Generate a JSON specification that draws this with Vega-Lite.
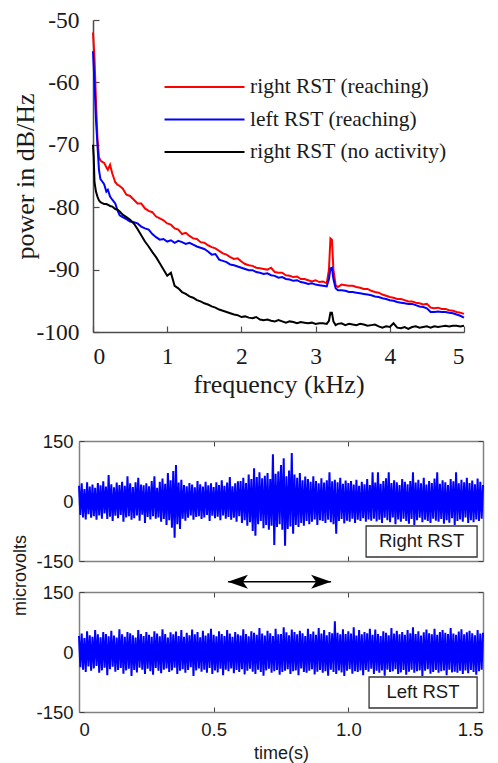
{
"$schema": "https://vega.github.io/schema/vega-lite/v6.json",
"background": "white",
"padding": {"left": 11, "top": 8, "right": 0, "bottom": 0},
"config": {"view": {"stroke": null}, "axis": {"grid": false}},
"datasets": {
"spectrum": [
{"f":0,"right RST (reaching)":-52,"left RST (reaching)":-55,"right RST (no activity)":-70},
{"f":0.01,"right RST (reaching)":-54,"left RST (reaching)":-57.5,"right RST (no activity)":-72},
{"f":0.02,"right RST (reaching)":-56,"left RST (reaching)":-60,"right RST (no activity)":-76},
{"f":0.04,"right RST (reaching)":-63,"left RST (reaching)":-66,"right RST (no activity)":-77.5},
{"f":0.06,"right RST (reaching)":-69,"left RST (reaching)":-70,"right RST (no activity)":-78.3},
{"f":0.08,"right RST (reaching)":-72,"left RST (reaching)":-74,"right RST (no activity)":-78.9},
{"f":0.1,"right RST (reaching)":-72.5,"left RST (reaching)":-75.5,"right RST (no activity)":-79.2},
{"f":0.12,"right RST (reaching)":-72.7,"left RST (reaching)":-75.8,"right RST (no activity)":-79.3},
{"f":0.15,"right RST (reaching)":-72.9,"left RST (reaching)":-76.3,"right RST (no activity)":-79.5},
{"f":0.18,"right RST (reaching)":-73.6,"left RST (reaching)":-77.5,"right RST (no activity)":-79.5},
{"f":0.2,"right RST (reaching)":-74,"left RST (reaching)":-77.2,"right RST (no activity)":-79.6},
{"f":0.23,"right RST (reaching)":-73.2,"left RST (reaching)":-78.3,"right RST (no activity)":-79.8},
{"f":0.26,"right RST (reaching)":-74.6,"left RST (reaching)":-78.8,"right RST (no activity)":-79.9},
{"f":0.3,"right RST (reaching)":-76,"left RST (reaching)":-79.4,"right RST (no activity)":-80.3},
{"f":0.33,"right RST (reaching)":-76.4,"left RST (reaching)":-80.5,"right RST (no activity)":-80.4},
{"f":0.36,"right RST (reaching)":-76.6,"left RST (reaching)":-81.3,"right RST (no activity)":-80.7},
{"f":0.4,"right RST (reaching)":-77,"left RST (reaching)":-81.6,"right RST (no activity)":-81.2},
{"f":0.45,"right RST (reaching)":-78,"left RST (reaching)":-81.9,"right RST (no activity)":-81.6},
{"f":0.5,"right RST (reaching)":-78.2,"left RST (reaching)":-82.3,"right RST (no activity)":-82},
{"f":0.55,"right RST (reaching)":-78.8,"left RST (reaching)":-82.4,"right RST (no activity)":-82.6},
{"f":0.6,"right RST (reaching)":-79.4,"left RST (reaching)":-82.6,"right RST (no activity)":-83.5},
{"f":0.65,"right RST (reaching)":-79.4,"left RST (reaching)":-83.1,"right RST (no activity)":-84.5},
{"f":0.7,"right RST (reaching)":-80.2,"left RST (reaching)":-83.4,"right RST (no activity)":-85.5},
{"f":0.75,"right RST (reaching)":-80.6,"left RST (reaching)":-83.6,"right RST (no activity)":-86.3},
{"f":0.8,"right RST (reaching)":-80.8,"left RST (reaching)":-84.3,"right RST (no activity)":-87.2},
{"f":0.85,"right RST (reaching)":-81.5,"left RST (reaching)":-84.8,"right RST (no activity)":-88},
{"f":0.9,"right RST (reaching)":-81.8,"left RST (reaching)":-85.2,"right RST (no activity)":-89},
{"f":0.95,"right RST (reaching)":-82.1,"left RST (reaching)":-85.1,"right RST (no activity)":-90},
{"f":1,"right RST (reaching)":-82.6,"left RST (reaching)":-85.5,"right RST (no activity)":-91},
{"f":1.05,"right RST (reaching)":-82.8,"left RST (reaching)":-85.3,"right RST (no activity)":-90.5},
{"f":1.1,"right RST (reaching)":-83.4,"left RST (reaching)":-85.7,"right RST (no activity)":-92.6},
{"f":1.15,"right RST (reaching)":-83.6,"left RST (reaching)":-85.4,"right RST (no activity)":-93},
{"f":1.2,"right RST (reaching)":-84.3,"left RST (reaching)":-85.6,"right RST (no activity)":-93.6},
{"f":1.25,"right RST (reaching)":-84.1,"left RST (reaching)":-85.9,"right RST (no activity)":-93.9},
{"f":1.3,"right RST (reaching)":-84.6,"left RST (reaching)":-85.7,"right RST (no activity)":-94.3},
{"f":1.35,"right RST (reaching)":-85,"left RST (reaching)":-86,"right RST (no activity)":-94.5},
{"f":1.4,"right RST (reaching)":-85.1,"left RST (reaching)":-86.3,"right RST (no activity)":-94.9},
{"f":1.45,"right RST (reaching)":-85.6,"left RST (reaching)":-86.5,"right RST (no activity)":-95.1},
{"f":1.5,"right RST (reaching)":-85.7,"left RST (reaching)":-86.7,"right RST (no activity)":-95.4},
{"f":1.55,"right RST (reaching)":-86.1,"left RST (reaching)":-87.1,"right RST (no activity)":-95.6},
{"f":1.6,"right RST (reaching)":-86.4,"left RST (reaching)":-87.6,"right RST (no activity)":-95.9},
{"f":1.65,"right RST (reaching)":-86.6,"left RST (reaching)":-87.5,"right RST (no activity)":-96.1},
{"f":1.7,"right RST (reaching)":-87,"left RST (reaching)":-88.4,"right RST (no activity)":-96.4},
{"f":1.75,"right RST (reaching)":-87.4,"left RST (reaching)":-88.6,"right RST (no activity)":-96.6},
{"f":1.8,"right RST (reaching)":-87.6,"left RST (reaching)":-88.8,"right RST (no activity)":-96.8},
{"f":1.85,"right RST (reaching)":-88,"left RST (reaching)":-89.2,"right RST (no activity)":-97},
{"f":1.9,"right RST (reaching)":-88.3,"left RST (reaching)":-89.3,"right RST (no activity)":-97.2},
{"f":1.95,"right RST (reaching)":-88.2,"left RST (reaching)":-89.5,"right RST (no activity)":-97.3},
{"f":2,"right RST (reaching)":-88.7,"left RST (reaching)":-89.7,"right RST (no activity)":-97.6},
{"f":2.05,"right RST (reaching)":-89.1,"left RST (reaching)":-89.9,"right RST (no activity)":-97.5},
{"f":2.1,"right RST (reaching)":-89.3,"left RST (reaching)":-90.1,"right RST (no activity)":-97.7},
{"f":2.15,"right RST (reaching)":-89.4,"left RST (reaching)":-90.1,"right RST (no activity)":-97.8},
{"f":2.2,"right RST (reaching)":-89.7,"left RST (reaching)":-90.4,"right RST (no activity)":-97.6},
{"f":2.25,"right RST (reaching)":-89.8,"left RST (reaching)":-90.5,"right RST (no activity)":-98},
{"f":2.3,"right RST (reaching)":-89.9,"left RST (reaching)":-90.7,"right RST (no activity)":-98.1},
{"f":2.35,"right RST (reaching)":-90,"left RST (reaching)":-90.6,"right RST (no activity)":-98},
{"f":2.4,"right RST (reaching)":-89.7,"left RST (reaching)":-90.9,"right RST (no activity)":-98.2},
{"f":2.45,"right RST (reaching)":-90.4,"left RST (reaching)":-91,"right RST (no activity)":-98.3},
{"f":2.5,"right RST (reaching)":-90.5,"left RST (reaching)":-91.3,"right RST (no activity)":-98.1},
{"f":2.55,"right RST (reaching)":-90.5,"left RST (reaching)":-91.2,"right RST (no activity)":-98.3},
{"f":2.6,"right RST (reaching)":-90.9,"left RST (reaching)":-91.5,"right RST (no activity)":-98.5},
{"f":2.65,"right RST (reaching)":-91,"left RST (reaching)":-91.6,"right RST (no activity)":-98.3},
{"f":2.7,"right RST (reaching)":-91.2,"left RST (reaching)":-91.8,"right RST (no activity)":-98.4},
{"f":2.75,"right RST (reaching)":-91.1,"left RST (reaching)":-91.7,"right RST (no activity)":-98.6},
{"f":2.8,"right RST (reaching)":-91.5,"left RST (reaching)":-92,"right RST (no activity)":-98.4},
{"f":2.85,"right RST (reaching)":-91.5,"left RST (reaching)":-92.1,"right RST (no activity)":-98.5},
{"f":2.9,"right RST (reaching)":-91.7,"left RST (reaching)":-92.3,"right RST (no activity)":-98.6},
{"f":2.95,"right RST (reaching)":-91.9,"left RST (reaching)":-92.2,"right RST (no activity)":-98.5},
{"f":3,"right RST (reaching)":-91.7,"left RST (reaching)":-92.4,"right RST (no activity)":-98.7},
{"f":3.05,"right RST (reaching)":-92,"left RST (reaching)":-92.5,"right RST (no activity)":-98.6},
{"f":3.1,"right RST (reaching)":-91.9,"left RST (reaching)":-92.6,"right RST (no activity)":-98.6},
{"f":3.15,"right RST (reaching)":-92.2,"left RST (reaching)":-92.7,"right RST (no activity)":-98.7},
{"f":3.18,"right RST (reaching)":-90,"left RST (reaching)":-91.5,"right RST (no activity)":-98.2},
{"f":3.2,"right RST (reaching)":-85,"left RST (reaching)":-89.8,"right RST (no activity)":-96.9},
{"f":3.22,"right RST (reaching)":-85.2,"left RST (reaching)":-89.7,"right RST (no activity)":-96.9},
{"f":3.24,"right RST (reaching)":-90,"left RST (reaching)":-91.5,"right RST (no activity)":-98.3},
{"f":3.27,"right RST (reaching)":-92.5,"left RST (reaching)":-93,"right RST (no activity)":-98.9},
{"f":3.3,"right RST (reaching)":-92.8,"left RST (reaching)":-93.3,"right RST (no activity)":-98.7},
{"f":3.35,"right RST (reaching)":-92.4,"left RST (reaching)":-93.3,"right RST (no activity)":-98.6},
{"f":3.4,"right RST (reaching)":-92.5,"left RST (reaching)":-93.4,"right RST (no activity)":-98.9},
{"f":3.45,"right RST (reaching)":-92.6,"left RST (reaching)":-93.6,"right RST (no activity)":-98.7},
{"f":3.5,"right RST (reaching)":-92.6,"left RST (reaching)":-93.6,"right RST (no activity)":-98.8},
{"f":3.55,"right RST (reaching)":-92.8,"left RST (reaching)":-93.7,"right RST (no activity)":-98.9},
{"f":3.6,"right RST (reaching)":-92.9,"left RST (reaching)":-93.8,"right RST (no activity)":-98.7},
{"f":3.65,"right RST (reaching)":-93.1,"left RST (reaching)":-93.9,"right RST (no activity)":-98.8},
{"f":3.7,"right RST (reaching)":-93.1,"left RST (reaching)":-94,"right RST (no activity)":-99},
{"f":3.75,"right RST (reaching)":-93.4,"left RST (reaching)":-94.1,"right RST (no activity)":-98.9},
{"f":3.8,"right RST (reaching)":-93.6,"left RST (reaching)":-94.3,"right RST (no activity)":-98.8},
{"f":3.85,"right RST (reaching)":-93.7,"left RST (reaching)":-94.4,"right RST (no activity)":-99.1},
{"f":3.9,"right RST (reaching)":-94,"left RST (reaching)":-94.6,"right RST (no activity)":-99.3},
{"f":3.95,"right RST (reaching)":-94.2,"left RST (reaching)":-94.7,"right RST (no activity)":-99.1},
{"f":4,"right RST (reaching)":-94.4,"left RST (reaching)":-94.9,"right RST (no activity)":-99.2},
{"f":4.05,"right RST (reaching)":-94.5,"left RST (reaching)":-95,"right RST (no activity)":-98.6},
{"f":4.1,"right RST (reaching)":-94.7,"left RST (reaching)":-95.2,"right RST (no activity)":-99.3},
{"f":4.15,"right RST (reaching)":-94.7,"left RST (reaching)":-95.3,"right RST (no activity)":-99.4},
{"f":4.2,"right RST (reaching)":-94.9,"left RST (reaching)":-95.4,"right RST (no activity)":-99.2},
{"f":4.25,"right RST (reaching)":-95.1,"left RST (reaching)":-95.5,"right RST (no activity)":-99.5},
{"f":4.3,"right RST (reaching)":-95.1,"left RST (reaching)":-95.5,"right RST (no activity)":-99.2},
{"f":4.35,"right RST (reaching)":-95.3,"left RST (reaching)":-95.7,"right RST (no activity)":-99.1},
{"f":4.4,"right RST (reaching)":-95.4,"left RST (reaching)":-95.9,"right RST (no activity)":-99.3},
{"f":4.45,"right RST (reaching)":-95.6,"left RST (reaching)":-96,"right RST (no activity)":-99.2},
{"f":4.5,"right RST (reaching)":-95.5,"left RST (reaching)":-96.2,"right RST (no activity)":-99.1},
{"f":4.55,"right RST (reaching)":-96.1,"left RST (reaching)":-96.8,"right RST (no activity)":-99.3},
{"f":4.6,"right RST (reaching)":-96.2,"left RST (reaching)":-96.8,"right RST (no activity)":-99.1},
{"f":4.65,"right RST (reaching)":-96.1,"left RST (reaching)":-96.7,"right RST (no activity)":-99.2},
{"f":4.7,"right RST (reaching)":-96.3,"left RST (reaching)":-96.8,"right RST (no activity)":-99.1},
{"f":4.75,"right RST (reaching)":-96.3,"left RST (reaching)":-96.8,"right RST (no activity)":-99},
{"f":4.8,"right RST (reaching)":-96.5,"left RST (reaching)":-96.9,"right RST (no activity)":-99.1},
{"f":4.85,"right RST (reaching)":-96.6,"left RST (reaching)":-97,"right RST (no activity)":-99},
{"f":4.9,"right RST (reaching)":-96.8,"left RST (reaching)":-97.2,"right RST (no activity)":-99},
{"f":4.95,"right RST (reaching)":-96.9,"left RST (reaching)":-97.4,"right RST (no activity)":-99.1},
{"f":5,"right RST (reaching)":-97.1,"left RST (reaching)":-97.7,"right RST (no activity)":-99}
],
"right": [
{"ms":0,"uV":38},{"ms":5,"uV":-35},{"ms":10,"uV":44},{"ms":15,"uV":-41},{"ms":20,"uV":30},{"ms":25,"uV":-46},{"ms":30,"uV":47},{"ms":35,"uV":-33},{"ms":40,"uV":36},{"ms":45,"uV":-42},
{"ms":50,"uV":41},{"ms":55,"uV":-38},{"ms":60,"uV":33},{"ms":65,"uV":-47},{"ms":70,"uV":45},{"ms":75,"uV":-36},{"ms":80,"uV":39},{"ms":85,"uV":-44},{"ms":90,"uV":49},{"ms":95,"uV":-31},
{"ms":100,"uV":36},{"ms":105,"uV":-45},{"ms":110,"uV":65},{"ms":115,"uV":-39},{"ms":120,"uV":42},{"ms":125,"uV":-50},{"ms":130,"uV":34},{"ms":135,"uV":-37},{"ms":140,"uV":46},{"ms":145,"uV":-43},
{"ms":150,"uV":40},{"ms":155,"uV":-35},{"ms":160,"uV":48},{"ms":165,"uV":-52},{"ms":170,"uV":38},{"ms":175,"uV":-41},{"ms":180,"uV":62},{"ms":185,"uV":-38},{"ms":190,"uV":44},{"ms":195,"uV":-47},
{"ms":200,"uV":35},{"ms":205,"uV":-43},{"ms":210,"uV":47},{"ms":215,"uV":-36},{"ms":220,"uV":58},{"ms":225,"uV":-49},{"ms":230,"uV":41},{"ms":235,"uV":-34},{"ms":240,"uV":39},{"ms":245,"uV":-55},
{"ms":250,"uV":44},{"ms":255,"uV":-40},{"ms":260,"uV":37},{"ms":265,"uV":-46},{"ms":270,"uV":50},{"ms":275,"uV":-38},{"ms":280,"uV":62},{"ms":285,"uV":-44},{"ms":290,"uV":33},{"ms":295,"uV":-41},
{"ms":300,"uV":48},{"ms":305,"uV":-52},{"ms":310,"uV":56},{"ms":315,"uV":-45},{"ms":320,"uV":43},{"ms":325,"uV":-60},{"ms":330,"uV":70},{"ms":335,"uV":-48},{"ms":340,"uV":52},{"ms":345,"uV":-67},
{"ms":350,"uV":75},{"ms":355,"uV":-92},{"ms":360,"uV":90},{"ms":365,"uV":-58},{"ms":370,"uV":46},{"ms":375,"uV":-70},{"ms":380,"uV":53},{"ms":385,"uV":-44},{"ms":390,"uV":40},{"ms":395,"uV":-49},
{"ms":400,"uV":37},{"ms":405,"uV":-42},{"ms":410,"uV":45},{"ms":415,"uV":-36},{"ms":420,"uV":41},{"ms":425,"uV":-47},{"ms":430,"uV":34},{"ms":435,"uV":-40},{"ms":440,"uV":50},{"ms":445,"uV":-38},
{"ms":450,"uV":42},{"ms":455,"uV":-45},{"ms":460,"uV":36},{"ms":465,"uV":-41},{"ms":470,"uV":48},{"ms":475,"uV":-35},{"ms":480,"uV":39},{"ms":485,"uV":-50},{"ms":490,"uV":44},{"ms":495,"uV":-37},
{"ms":500,"uV":35},{"ms":505,"uV":-43},{"ms":510,"uV":47},{"ms":515,"uV":-39},{"ms":520,"uV":40},{"ms":525,"uV":-48},{"ms":530,"uV":52},{"ms":535,"uV":-36},{"ms":540,"uV":38},{"ms":545,"uV":-44},
{"ms":550,"uV":46},{"ms":555,"uV":-40},{"ms":560,"uV":60},{"ms":565,"uV":-47},{"ms":570,"uV":37},{"ms":575,"uV":-42},{"ms":580,"uV":44},{"ms":585,"uV":-52},{"ms":590,"uV":49},{"ms":595,"uV":-38},
{"ms":600,"uV":50},{"ms":605,"uV":-55},{"ms":610,"uV":58},{"ms":615,"uV":-48},{"ms":620,"uV":45},{"ms":625,"uV":-62},{"ms":630,"uV":66},{"ms":635,"uV":-53},{"ms":640,"uV":55},{"ms":645,"uV":-75},
{"ms":650,"uV":82},{"ms":655,"uV":-87},{"ms":660,"uV":60},{"ms":665,"uV":-58},{"ms":670,"uV":72},{"ms":675,"uV":-50},{"ms":680,"uV":57},{"ms":685,"uV":-68},{"ms":690,"uV":63},{"ms":695,"uV":-60},
{"ms":700,"uV":70},{"ms":705,"uV":-72},{"ms":710,"uV":55},{"ms":715,"uV":-62},{"ms":720,"uV":117},{"ms":725,"uV":-110},{"ms":730,"uV":68},{"ms":735,"uV":-65},{"ms":740,"uV":74},{"ms":745,"uV":-58},
{"ms":750,"uV":90},{"ms":755,"uV":-72},{"ms":760,"uV":107},{"ms":765,"uV":-112},{"ms":770,"uV":62},{"ms":775,"uV":-70},{"ms":780,"uV":76},{"ms":785,"uV":-64},{"ms":790,"uV":120},{"ms":795,"uV":-82},
{"ms":800,"uV":66},{"ms":805,"uV":-60},{"ms":810,"uV":58},{"ms":815,"uV":-65},{"ms":820,"uV":70},{"ms":825,"uV":-55},{"ms":830,"uV":52},{"ms":835,"uV":-62},{"ms":840,"uV":61},{"ms":845,"uV":-50},
{"ms":850,"uV":55},{"ms":855,"uV":-58},{"ms":860,"uV":48},{"ms":865,"uV":-52},{"ms":870,"uV":62},{"ms":875,"uV":-46},{"ms":880,"uV":50},{"ms":885,"uV":-60},{"ms":890,"uV":44},{"ms":895,"uV":-48},
{"ms":900,"uV":57},{"ms":905,"uV":-50},{"ms":910,"uV":46},{"ms":915,"uV":-55},{"ms":920,"uV":52},{"ms":925,"uV":-47},{"ms":930,"uV":72},{"ms":935,"uV":-53},{"ms":940,"uV":49},{"ms":945,"uV":-58},
{"ms":950,"uV":53},{"ms":955,"uV":-82},{"ms":960,"uV":47},{"ms":965,"uV":-50},{"ms":970,"uV":58},{"ms":975,"uV":-45},{"ms":980,"uV":43},{"ms":985,"uV":-56},{"ms":990,"uV":51},{"ms":995,"uV":-49},
{"ms":1000,"uV":45},{"ms":1005,"uV":-52},{"ms":1010,"uV":50},{"ms":1015,"uV":-44},{"ms":1020,"uV":41},{"ms":1025,"uV":-55},{"ms":1030,"uV":53},{"ms":1035,"uV":-47},{"ms":1040,"uV":38},{"ms":1045,"uV":-50},
{"ms":1050,"uV":48},{"ms":1055,"uV":-43},{"ms":1060,"uV":42},{"ms":1065,"uV":-52},{"ms":1070,"uV":55},{"ms":1075,"uV":-46},{"ms":1080,"uV":40},{"ms":1085,"uV":-49},{"ms":1090,"uV":72},{"ms":1095,"uV":-44},
{"ms":1100,"uV":46},{"ms":1105,"uV":-51},{"ms":1110,"uV":72},{"ms":1115,"uV":-47},{"ms":1120,"uV":43},{"ms":1125,"uV":-55},{"ms":1130,"uV":50},{"ms":1135,"uV":-42},{"ms":1140,"uV":57},{"ms":1145,"uV":-48},
{"ms":1150,"uV":72},{"ms":1155,"uV":-53},{"ms":1160,"uV":45},{"ms":1165,"uV":-41},{"ms":1170,"uV":52},{"ms":1175,"uV":-58},{"ms":1180,"uV":47},{"ms":1185,"uV":-46},{"ms":1190,"uV":40},{"ms":1195,"uV":-52},
{"ms":1200,"uV":55},{"ms":1205,"uV":-44},{"ms":1210,"uV":48},{"ms":1215,"uV":-50},{"ms":1220,"uV":42},{"ms":1225,"uV":-57},{"ms":1230,"uV":50},{"ms":1235,"uV":-45},{"ms":1240,"uV":72},{"ms":1245,"uV":-60},
{"ms":1250,"uV":46},{"ms":1255,"uV":-48},{"ms":1260,"uV":53},{"ms":1265,"uV":-42},{"ms":1270,"uV":44},{"ms":1275,"uV":-53},{"ms":1280,"uV":58},{"ms":1285,"uV":-47},{"ms":1290,"uV":41},{"ms":1295,"uV":-50},
{"ms":1300,"uV":50},{"ms":1305,"uV":-55},{"ms":1310,"uV":45},{"ms":1315,"uV":-44},{"ms":1320,"uV":56},{"ms":1325,"uV":-49},{"ms":1330,"uV":72},{"ms":1335,"uV":-52},{"ms":1340,"uV":43},{"ms":1345,"uV":-45},
{"ms":1350,"uV":52},{"ms":1355,"uV":-57},{"ms":1360,"uV":47},{"ms":1365,"uV":-48},{"ms":1370,"uV":40},{"ms":1375,"uV":-54},{"ms":1380,"uV":55},{"ms":1385,"uV":-43},{"ms":1390,"uV":49},{"ms":1395,"uV":-60},
{"ms":1400,"uV":72},{"ms":1405,"uV":-50},{"ms":1410,"uV":44},{"ms":1415,"uV":-46},{"ms":1420,"uV":53},{"ms":1425,"uV":-52},{"ms":1430,"uV":47},{"ms":1435,"uV":-41},{"ms":1440,"uV":58},{"ms":1445,"uV":-55},
{"ms":1450,"uV":45},{"ms":1455,"uV":-48},{"ms":1460,"uV":51},{"ms":1465,"uV":-53},{"ms":1470,"uV":42},{"ms":1475,"uV":-46},{"ms":1480,"uV":56},{"ms":1485,"uV":-50},{"ms":1490,"uV":48},{"ms":1495,"uV":-44},
{"ms":1500,"uV":40}
],
"left": [
{"ms":0,"uV":40},{"ms":5,"uV":-38},{"ms":10,"uV":46},{"ms":15,"uV":-44},{"ms":20,"uV":35},{"ms":25,"uV":-50},{"ms":30,"uV":52},{"ms":35,"uV":-36},{"ms":40,"uV":42},{"ms":45,"uV":-47},
{"ms":50,"uV":38},{"ms":55,"uV":-41},{"ms":60,"uV":55},{"ms":65,"uV":-35},{"ms":70,"uV":44},{"ms":75,"uV":-52},{"ms":80,"uV":37},{"ms":85,"uV":-46},{"ms":90,"uV":50},{"ms":95,"uV":-39},
{"ms":100,"uV":45},{"ms":105,"uV":-58},{"ms":110,"uV":39},{"ms":115,"uV":-43},{"ms":120,"uV":53},{"ms":125,"uV":-37},{"ms":130,"uV":41},{"ms":135,"uV":-49},{"ms":140,"uV":36},{"ms":145,"uV":-45},
{"ms":150,"uV":57},{"ms":155,"uV":-40},{"ms":160,"uV":44},{"ms":165,"uV":-54},{"ms":170,"uV":38},{"ms":175,"uV":-46},{"ms":180,"uV":50},{"ms":185,"uV":-42},{"ms":190,"uV":47},{"ms":195,"uV":-60},
{"ms":200,"uV":42},{"ms":205,"uV":-45},{"ms":210,"uV":36},{"ms":215,"uV":-51},{"ms":220,"uV":55},{"ms":225,"uV":-39},{"ms":230,"uV":45},{"ms":235,"uV":-44},{"ms":240,"uV":40},{"ms":245,"uV":-55},
{"ms":250,"uV":50},{"ms":255,"uV":-42},{"ms":260,"uV":43},{"ms":265,"uV":-48},{"ms":270,"uV":38},{"ms":275,"uV":-57},{"ms":280,"uV":52},{"ms":285,"uV":-40},{"ms":290,"uV":46},{"ms":295,"uV":-47},
{"ms":300,"uV":39},{"ms":305,"uV":-53},{"ms":310,"uV":57},{"ms":315,"uV":-44},{"ms":320,"uV":45},{"ms":325,"uV":-41},{"ms":330,"uV":36},{"ms":335,"uV":-50},{"ms":340,"uV":49},{"ms":345,"uV":-46},
{"ms":350,"uV":44},{"ms":355,"uV":-39},{"ms":360,"uV":51},{"ms":365,"uV":-55},{"ms":370,"uV":40},{"ms":375,"uV":-47},{"ms":380,"uV":55},{"ms":385,"uV":-43},{"ms":390,"uV":38},{"ms":395,"uV":-52},
{"ms":400,"uV":48},{"ms":405,"uV":-45},{"ms":410,"uV":42},{"ms":415,"uV":-38},{"ms":420,"uV":56},{"ms":425,"uV":-60},{"ms":430,"uV":44},{"ms":435,"uV":-46},{"ms":440,"uV":50},{"ms":445,"uV":-41},
{"ms":450,"uV":37},{"ms":455,"uV":-49},{"ms":460,"uV":53},{"ms":465,"uV":-44},{"ms":470,"uV":41},{"ms":475,"uV":-52},{"ms":480,"uV":47},{"ms":485,"uV":-40},{"ms":490,"uV":58},{"ms":495,"uV":-55},
{"ms":500,"uV":43},{"ms":505,"uV":-46},{"ms":510,"uV":39},{"ms":515,"uV":-51},{"ms":520,"uV":52},{"ms":525,"uV":-42},{"ms":530,"uV":45},{"ms":535,"uV":-58},{"ms":540,"uV":40},{"ms":545,"uV":-44},
{"ms":550,"uV":55},{"ms":555,"uV":-48},{"ms":560,"uV":46},{"ms":565,"uV":-41},{"ms":570,"uV":38},{"ms":575,"uV":-53},{"ms":580,"uV":50},{"ms":585,"uV":-45},{"ms":590,"uV":44},{"ms":595,"uV":-50},
{"ms":600,"uV":41},{"ms":605,"uV":-43},{"ms":610,"uV":57},{"ms":615,"uV":-56},{"ms":620,"uV":45},{"ms":625,"uV":-47},{"ms":630,"uV":39},{"ms":635,"uV":-42},{"ms":640,"uV":52},{"ms":645,"uV":-49},
{"ms":650,"uV":48},{"ms":655,"uV":-55},{"ms":660,"uV":43},{"ms":665,"uV":-44},{"ms":670,"uV":60},{"ms":675,"uV":-50},{"ms":680,"uV":46},{"ms":685,"uV":-59},{"ms":690,"uV":41},{"ms":695,"uV":-46},
{"ms":700,"uV":53},{"ms":705,"uV":-42},{"ms":710,"uV":47},{"ms":715,"uV":-52},{"ms":720,"uV":40},{"ms":725,"uV":-48},{"ms":730,"uV":58},{"ms":735,"uV":-45},{"ms":740,"uV":44},{"ms":745,"uV":-57},
{"ms":750,"uV":45},{"ms":755,"uV":-50},{"ms":760,"uV":62},{"ms":765,"uV":-47},{"ms":770,"uV":49},{"ms":775,"uV":-43},{"ms":780,"uV":42},{"ms":785,"uV":-55},{"ms":790,"uV":56},{"ms":795,"uV":-48},
{"ms":800,"uV":50},{"ms":805,"uV":-46},{"ms":810,"uV":44},{"ms":815,"uV":-58},{"ms":820,"uV":53},{"ms":825,"uV":-41},{"ms":830,"uV":47},{"ms":835,"uV":-50},{"ms":840,"uV":40},{"ms":845,"uV":-52},
{"ms":850,"uV":58},{"ms":855,"uV":-47},{"ms":860,"uV":45},{"ms":865,"uV":-43},{"ms":870,"uV":51},{"ms":875,"uV":-56},{"ms":880,"uV":43},{"ms":885,"uV":-49},{"ms":890,"uV":60},{"ms":895,"uV":-45},
{"ms":900,"uV":46},{"ms":905,"uV":-52},{"ms":910,"uV":55},{"ms":915,"uV":-48},{"ms":920,"uV":42},{"ms":925,"uV":-59},{"ms":930,"uV":50},{"ms":935,"uV":-44},{"ms":940,"uV":47},{"ms":945,"uV":-50},
{"ms":950,"uV":77},{"ms":955,"uV":-55},{"ms":960,"uV":48},{"ms":965,"uV":-46},{"ms":970,"uV":44},{"ms":975,"uV":-51},{"ms":980,"uV":57},{"ms":985,"uV":-60},{"ms":990,"uV":45},{"ms":995,"uV":-47},
{"ms":1000,"uV":52},{"ms":1005,"uV":-43},{"ms":1010,"uV":46},{"ms":1015,"uV":-54},{"ms":1020,"uV":62},{"ms":1025,"uV":-48},{"ms":1030,"uV":41},{"ms":1035,"uV":-50},{"ms":1040,"uV":55},{"ms":1045,"uV":-46},
{"ms":1050,"uV":44},{"ms":1055,"uV":-58},{"ms":1060,"uV":50},{"ms":1065,"uV":-45},{"ms":1070,"uV":47},{"ms":1075,"uV":-49},{"ms":1080,"uV":58},{"ms":1085,"uV":-42},{"ms":1090,"uV":43},{"ms":1095,"uV":-55},
{"ms":1100,"uV":56},{"ms":1105,"uV":-47},{"ms":1110,"uV":45},{"ms":1115,"uV":-52},{"ms":1120,"uV":40},{"ms":1125,"uV":-46},{"ms":1130,"uV":52},{"ms":1135,"uV":-59},{"ms":1140,"uV":48},{"ms":1145,"uV":-44},
{"ms":1150,"uV":42},{"ms":1155,"uV":-50},{"ms":1160,"uV":60},{"ms":1165,"uV":-48},{"ms":1170,"uV":46},{"ms":1175,"uV":-43},{"ms":1180,"uV":53},{"ms":1185,"uV":-55},{"ms":1190,"uV":44},{"ms":1195,"uV":-51},
{"ms":1200,"uV":50},{"ms":1205,"uV":-45},{"ms":1210,"uV":43},{"ms":1215,"uV":-57},{"ms":1220,"uV":55},{"ms":1225,"uV":-49},{"ms":1230,"uV":47},{"ms":1235,"uV":-44},{"ms":1240,"uV":62},{"ms":1245,"uV":-52},
{"ms":1250,"uV":45},{"ms":1255,"uV":-48},{"ms":1260,"uV":52},{"ms":1265,"uV":-46},{"ms":1270,"uV":41},{"ms":1275,"uV":-60},{"ms":1280,"uV":49},{"ms":1285,"uV":-47},{"ms":1290,"uV":56},{"ms":1295,"uV":-43},
{"ms":1300,"uV":47},{"ms":1305,"uV":-54},{"ms":1310,"uV":44},{"ms":1315,"uV":-50},{"ms":1320,"uV":58},{"ms":1325,"uV":-45},{"ms":1330,"uV":43},{"ms":1335,"uV":-52},{"ms":1340,"uV":50},{"ms":1345,"uV":-48},
{"ms":1350,"uV":55},{"ms":1355,"uV":-46},{"ms":1360,"uV":48},{"ms":1365,"uV":-58},{"ms":1370,"uV":45},{"ms":1375,"uV":-44},{"ms":1380,"uV":60},{"ms":1385,"uV":-51},{"ms":1390,"uV":46},{"ms":1395,"uV":-49},
{"ms":1400,"uV":43},{"ms":1405,"uV":-52},{"ms":1410,"uV":51},{"ms":1415,"uV":-47},{"ms":1420,"uV":57},{"ms":1425,"uV":-55},{"ms":1430,"uV":44},{"ms":1435,"uV":-46},{"ms":1440,"uV":49},{"ms":1445,"uV":-53},
{"ms":1450,"uV":53},{"ms":1455,"uV":-45},{"ms":1460,"uV":47},{"ms":1465,"uV":-50},{"ms":1470,"uV":42},{"ms":1475,"uV":-57},{"ms":1480,"uV":55},{"ms":1485,"uV":-48},{"ms":1490,"uV":46},{"ms":1495,"uV":-44},
{"ms":1500,"uV":48}
],
"boxes": [
{"label":"Right RST","x1":1066,"x2":1478,"y1":-62.5,"y2":-140,"xc":1272,"yc":-101},
{"label":"Left RST","x1":1077,"x2":1478,"y1":-62.5,"y2":-140,"xc":1277,"yc":-101}
],
"arrow": [
{"ms":553,"uV":-202,"end":"start"},
{"ms":936,"uV":-202,"end":"end"}
]
},
"vconcat": [
{
"width": 385, "height": 312,
"data": {"name": "spectrum"},
"transform": [{"fold": ["right RST (reaching)", "left RST (reaching)", "right RST (no activity)"], "as": ["series", "power"]}],
"mark": {"type": "line", "strokeWidth": 2},
"encoding": {
"x": {"field": "f", "type": "quantitative", "scale": {"domain": [0, 5], "range": [14, 385], "nice": false, "zero": false},
"axis": {"values": [0, 1, 2, 3, 4, 5], "title": "frequency (kHz)", "tickSize": -6, "labelPadding": 18, "titlePadding": 4,
"labelFont": "Liberation Serif", "labelFontSize": 23.5, "labelColor": "#1a1a1a", "titleFont": "Liberation Serif", "titleFontSize": 26, "titleFontWeight": "normal", "titleColor": "#1a1a1a",
"domainColor": "#4d4d4d", "domainWidth": 1.5, "tickColor": "#4d4d4d", "tickWidth": 1.2}},
"y": {"field": "power", "type": "quantitative", "scale": {"domain": [-100, -50], "nice": false, "zero": false},
"axis": {"values": [-100, -90, -80, -70, -60, -50], "labelExpr": "'' + datum.value", "title": "power in dB/Hz", "offset": -14, "tickSize": -6, "labelPadding": 20, "titlePadding": -3,
"labelFont": "Liberation Serif", "labelFontSize": 23.5, "labelColor": "#1a1a1a", "titleFont": "Liberation Serif", "titleFontSize": 26, "titleFontWeight": "normal", "titleColor": "#1a1a1a",
"domainColor": "#4d4d4d", "domainWidth": 1.5, "tickColor": "#4d4d4d", "tickWidth": 1.2}},
"color": {"field": "series", "type": "nominal",
"scale": {"domain": ["right RST (reaching)", "left RST (reaching)", "right RST (no activity)"], "range": ["#ff0000", "#0000ff", "#000000"]},
"legend": {"orient": "none", "legendX": 84, "legendY": 57, "title": null, "symbolType": "stroke", "symbolSize": 6400, "symbolStrokeWidth": 2.2,
"labelFont": "Liberation Serif", "labelFontSize": 21.5, "labelColor": "#1a1a1a", "labelOffset": 4, "labelLimit": 0, "clipHeight": 20, "rowPadding": 10.5, "padding": 0}}
}
},
{
"vconcat": [
{
"width": 404, "height": 120,
"resolve": {"axis": {"x": "independent", "y": "independent"}},
"layer": [
{"data": {"name": "right"}, "mark": {"type": "line", "color": "#0000ff", "strokeWidth": 2},
"encoding": {
"x": {"field": "ms", "type": "quantitative", "scale": {"domain": [0, 1500], "nice": false, "zero": false},
"axis": {"orient": "bottom", "values": [0, 500, 1000, 1500], "labels": false, "title": null, "tickSize": -5, "domainColor": "#808080", "domainWidth": 1.5, "tickColor": "#404040"}},
"y": {"field": "uV", "type": "quantitative", "scale": {"domain": [-150, 150], "nice": false, "zero": false},
"axis": {"orient": "left", "values": [-150, 0, 150], "labelExpr": "'' + datum.value", "tickSize": -5, "labelPadding": 11,
"labelFont": "Liberation Sans", "labelFontSize": 18.5, "labelColor": "#1a1a1a",
"title": "microvolts", "titleFont": "Liberation Sans", "titleFontSize": 18, "titleFontWeight": "normal", "titleColor": "#1a1a1a", "titleY": 134, "titlePadding": 6,
"domainColor": "#808080", "domainWidth": 1.5, "tickColor": "#404040"}}
}},
{"data": {"name": "boxes"}, "transform": [{"filter": "datum.label == 'Right RST'"}],
"mark": {"type": "rect", "fill": "white", "stroke": "#333333", "strokeWidth": 1.3},
"encoding": {
"x": {"field": "x1", "type": "quantitative", "axis": {"orient": "top", "values": [0, 500, 1000, 1500], "labels": false, "title": null, "tickSize": -5, "domainColor": "#808080", "domainWidth": 1.5, "tickColor": "#404040"}},
"x2": {"field": "x2"},
"y": {"field": "y1", "type": "quantitative", "axis": {"orient": "right", "values": [-150, 0, 150], "labels": false, "title": null, "tickSize": -5, "domainColor": "#808080", "domainWidth": 1.5, "tickColor": "#404040"}},
"y2": {"field": "y2"}
}},
{"data": {"name": "boxes"}, "transform": [{"filter": "datum.label == 'Right RST'"}],
"mark": {"type": "text", "font": "Liberation Sans", "fontSize": 18.5, "color": "#1a1a1a", "align": "center", "baseline": "middle"},
"encoding": {
"x": {"field": "xc", "type": "quantitative", "axis": null},
"y": {"field": "yc", "type": "quantitative", "axis": null},
"text": {"field": "label"}
}},
{"data": {"name": "arrow"}, "mark": {"type": "line", "color": "#000000", "strokeWidth": 1.5},
"encoding": {
"x": {"field": "ms", "type": "quantitative", "axis": null},
"y": {"field": "uV", "type": "quantitative", "axis": null}
}},
{"data": {"name": "arrow"}, "mark": {"type": "point", "filled": true, "color": "#000000", "size": 400, "opacity": 1, "strokeWidth": 0},
"encoding": {
"x": {"field": "ms", "type": "quantitative", "axis": null},
"y": {"field": "uV", "type": "quantitative", "axis": null},
"shape": {"field": "end", "type": "nominal", "scale": {"domain": ["start", "end"], "range": ["M0,0L2,-0.7L1.5,0L2,0.7Z", "M0,0L-2,-0.7L-1.5,0L-2,0.7Z"]}, "legend": null}
}}
]
},
{
"width": 404, "height": 120,
"resolve": {"axis": {"x": "independent", "y": "independent"}},
"layer": [
{"data": {"name": "left"}, "mark": {"type": "line", "color": "#0000ff", "strokeWidth": 2},
"encoding": {
"x": {"field": "ms", "type": "quantitative", "scale": {"domain": [0, 1500], "nice": false, "zero": false},
"axis": {"orient": "bottom", "values": [0, 500, 1000, 1500], "labelExpr": "datum.value == 0 ? '0' : format(datum.value / 1000, '.1f')", "tickSize": -5, "labelPadding": 13,
"labelFont": "Liberation Sans", "labelFontSize": 18.5, "labelColor": "#1a1a1a",
"title": "time(s)", "titleFont": "Liberation Sans", "titleFontSize": 18, "titleFontWeight": "normal", "titleColor": "#1a1a1a", "titlePadding": 6,
"domainColor": "#808080", "domainWidth": 1.5, "tickColor": "#404040"}},
"y": {"field": "uV", "type": "quantitative", "scale": {"domain": [-150, 150], "nice": false, "zero": false},
"axis": {"orient": "left", "values": [-150, 0, 150], "labelExpr": "'' + datum.value", "tickSize": -5, "labelPadding": 11,
"labelFont": "Liberation Sans", "labelFontSize": 18.5, "labelColor": "#1a1a1a", "title": null,
"domainColor": "#808080", "domainWidth": 1.5, "tickColor": "#404040"}}
}},
{"data": {"name": "boxes"}, "transform": [{"filter": "datum.label == 'Left RST'"}],
"mark": {"type": "rect", "fill": "white", "stroke": "#333333", "strokeWidth": 1.3},
"encoding": {
"x": {"field": "x1", "type": "quantitative", "axis": {"orient": "top", "values": [0, 500, 1000, 1500], "labels": false, "title": null, "tickSize": -5, "domainColor": "#808080", "domainWidth": 1.5, "tickColor": "#404040"}},
"x2": {"field": "x2"},
"y": {"field": "y1", "type": "quantitative", "axis": {"orient": "right", "values": [-150, 0, 150], "labels": false, "title": null, "tickSize": -5, "domainColor": "#808080", "domainWidth": 1.5, "tickColor": "#404040"}},
"y2": {"field": "y2"}
}},
{"data": {"name": "boxes"}, "transform": [{"filter": "datum.label == 'Left RST'"}],
"mark": {"type": "text", "font": "Liberation Sans", "fontSize": 18.5, "color": "#1a1a1a", "align": "center", "baseline": "middle"},
"encoding": {
"x": {"field": "xc", "type": "quantitative", "axis": null},
"y": {"field": "yc", "type": "quantitative", "axis": null},
"text": {"field": "label"}
}}
]
}
],
"spacing": 31,
"bounds": "flush"
}
],
"spacing": 34
}
